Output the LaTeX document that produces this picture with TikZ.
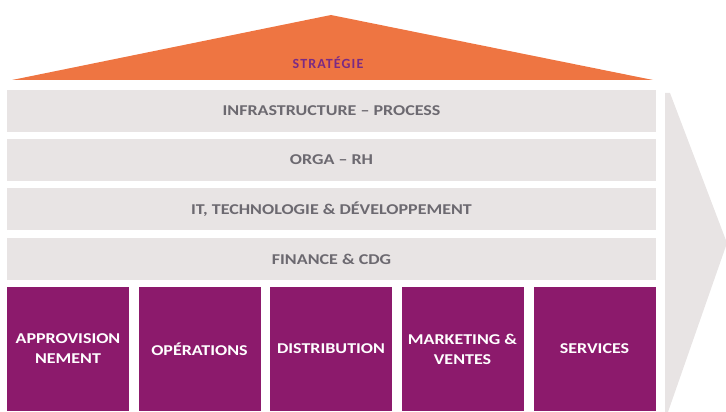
\documentclass[tikz,border=0pt]{standalone}
\usepackage{fontspec}
\setmainfont{Carlito}
\newfontfamily\labelfont[FakeStretch=1.2,Ligatures=TeX]{Carlito}
\newfontfamily\stratfont[LetterSpace=8,Ligatures=TeX]{Carlito}
\definecolor{stratfill}{HTML}{EE7542}
\definecolor{bandfill}{HTML}{E8E4E4}
\definecolor{actfill}{HTML}{8C1A6C}
\definecolor{bandtext}{HTML}{6C6970}
\definecolor{strattext}{HTML}{7A2A85}
\begin{document}
\begin{tikzpicture}[x=1pt,y=-1pt,
  bandbox/.style={fill=bandfill, draw=none, inner sep=0pt,
    minimum width=649pt, minimum height=42pt, text=bandtext,
    font=\labelfont\bfseries\fontsize{15}{18}\selectfont},
  actbox/.style={fill=actfill, draw=none, inner sep=0pt,
    minimum width=122pt, minimum height=124pt, text=white, align=center,
    font=\labelfont\bfseries\fontsize{15}{20}\selectfont}]
  \useasboundingbox (0,0) rectangle (726,412);
  % value chain arrow behind the house
  \fill[bandfill] (665,93) -- (670,93) -- (727,243) -- (668,412) -- (665,412) -- cycle;
  % roof
  \fill[stratfill] (12,80) -- (331,15) -- (653,80) -- cycle;
  \node[text=strattext, font=\stratfont\bfseries\fontsize{14}{16}\selectfont] (strat) at (328,63) {STRATÉGIE};
  % support functions
  \node[bandbox] (infra) at (331.5,111) {INFRASTRUCTURE \textendash{} PROCESS};
  \node[bandbox] (orga)  at (331.5,160) {ORGA \textendash{} RH};
  \node[bandbox] (it)    at (331.5,209) {IT, TECHNOLOGIE \& DÉVELOPPEMENT};
  \node[bandbox] (fin)   at (331.5,259) {FINANCE \& CDG};
  % primary activities
  \node[actbox] (appro) at (68,349)    {APPROVISION\\NEMENT};
  \node[actbox] (ops)   at (199.5,349) {OPÉRATIONS};
  \node[actbox] (dist)  at (331,349)   {DISTRIBUTION};
  \node[actbox] (mkt)   at (462.5,349) {MARKETING \&\\VENTES};
  \node[actbox] (serv)  at (594.5,349) {SERVICES};
\end{tikzpicture}
\end{document}
